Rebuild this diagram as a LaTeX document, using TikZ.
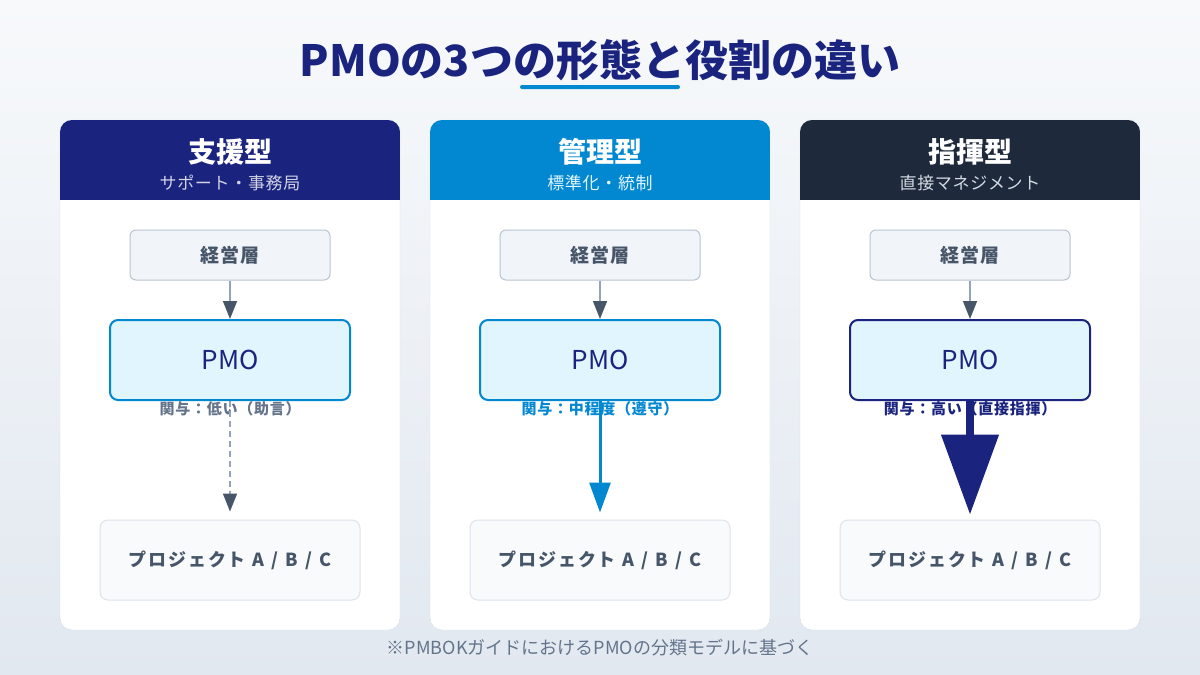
\documentclass[tikz,border=0pt]{standalone}
\usepackage{fontspec}
\setmainfont{Noto Sans CJK JP}
\usetikzlibrary{arrows.meta}

\definecolor{navy}{HTML}{1A237E}
\definecolor{azure}{HTML}{0288D1}
\definecolor{ink}{HTML}{1E293B}
\definecolor{slate}{HTML}{475569}
\definecolor{slategray}{HTML}{64748B}
\definecolor{linegray}{HTML}{94A3B8}
\definecolor{pmofill}{HTML}{E1F5FE}
\definecolor{execfill}{HTML}{F1F5F9}
\definecolor{execline}{HTML}{B9C4D0}
\definecolor{projfill}{HTML}{F8FAFC}
\definecolor{projline}{HTML}{DCE3EC}
\definecolor{panelline}{HTML}{D5DDE8}
\definecolor{bgtop}{HTML}{F7F9FB}
\definecolor{bgbottom}{HTML}{E2E8F0}

\newcommand{\fsize}[1]{\fontsize{#1}{#1}\selectfont}
\newcommand{\spaced}[1]{\addfontfeature{LetterSpace=#1}}
\newcommand{\widespace}{\spaceskip=7pt\relax}

\begin{document}
\begin{tikzpicture}[x=1pt, y=-1pt,
  panel/.style = {draw=panelline, fill=white, rounded corners=12pt},
  head/.style = {text=white, font=\fsize{28}\bfseries},
  sub/.style = {font=\fsize{17}\spaced{4}},
  exec/.style = {draw=execline, fill=execfill, rounded corners=6pt, line width=1pt,
    minimum width=200pt, minimum height=50pt, text=slate, font=\fsize{19}\bfseries\spaced{6}},
  pmo/.style = {fill=pmofill, line width=2pt, rounded corners=8pt,
    minimum width=240pt, minimum height=80pt, text=navy, font=\fsize{26}},
  proj/.style = {draw=projline, fill=projfill, rounded corners=8pt, line width=1pt,
    minimum width=260pt, minimum height=80pt, text=slate,
    font=\fsize{18}\bfseries\spaced{10}\widespace},
  rel/.style = {font=\fsize{15}\bfseries\spaced{5}},
  link/.style = {draw=linegray, line width=1.5pt, -{Triangle[length=18pt, width=14pt, color=slate]}}
]
\useasboundingbox (0,0) rectangle (1200,675);
\shade[top color=bgtop, bottom color=bgbottom] (0,0) rectangle (1200,675);

% title
\node[text=navy, font=\fsize{43}\bfseries] (title) at (600,60) {PMOの3つの形態と役割の違い};
\node[fill=azure, minimum width=160pt, minimum height=4pt, inner sep=0pt, rounded corners=2pt] (uline) at (600,87) {};

% support type
\begin{scope}
\draw[panel] (60,120) rectangle (400,630);
\begin{scope}
\clip[rounded corners=12pt] (60,120) rectangle (400,630);
\fill[navy] (60,120) rectangle (400,200);
\end{scope}
\node[head] (head1) at (230,152) {支援型};
\node[sub, text=navy!20] (sub1) at (230,183) {サポート・事務局};

\node[exec] (exec1) at (230,255) {経営層};
\node[pmo, draw=azure] (pmo1) at (230,360) {PMO};
\node[proj] (proj1) at (230,560) {プロジェクト A / B / C};
\node[rel, text=slategray] (rel1) at (230,409) {関与：低い（助言）};

\draw[link] (exec1.south) -- (pmo1.north);
\draw[link, dash pattern=on 6pt off 4pt, shorten >=8pt] (pmo1.south) -- (proj1.north);
\end{scope}

% management type
\begin{scope}[xshift=370pt]
\draw[panel] (60,120) rectangle (400,630);
\begin{scope}
\clip[rounded corners=12pt] (60,120) rectangle (400,630);
\fill[azure] (60,120) rectangle (400,200);
\end{scope}
\node[head] (head2) at (230,152) {管理型};
\node[sub, text=pmofill] (sub2) at (230,183) {標準化・統制};

\node[exec] (exec2) at (230,255) {経営層};
\node[pmo, draw=azure] (pmo2) at (230,360) {PMO};
\node[proj] (proj2) at (230,560) {プロジェクト A / B / C};
\node[rel, text=azure] (rel2) at (230,409) {関与：中程度（遵守）};

\draw[link] (exec2.south) -- (pmo2.north);
\draw[draw=azure, line width=3pt, shorten >=7pt,
  -{Triangle[length=30pt, width=21pt]}] (pmo2.south) -- (proj2.north);
\end{scope}

% directive type
\begin{scope}[xshift=740pt]
\draw[panel] (60,120) rectangle (400,630);
\begin{scope}
\clip[rounded corners=12pt] (60,120) rectangle (400,630);
\fill[ink] (60,120) rectangle (400,200);
\end{scope}
\node[head] (head3) at (230,152) {指揮型};
\node[sub, text=linegray!40] (sub3) at (230,183) {直接マネジメント};

\node[exec] (exec3) at (230,255) {経営層};
\node[pmo, draw=navy] (pmo3) at (230,360) {PMO};
\node[proj] (proj3) at (230,560) {プロジェクト A / B / C};
\node[rel, text=navy] (rel3) at (230,409) {関与：高い（直接指揮）};

\draw[link] (exec3.south) -- (pmo3.north);
\draw[draw=navy, line width=8pt, shorten >=5pt,
  -{Triangle[length=80pt, width=56pt]}] (pmo3.south) -- (proj3.north);
\end{scope}

\node[text=slategray, font=\fsize{18}] (note) at (600,648) {※PMBOKガイドにおけるPMOの分類モデルに基づく};
\end{tikzpicture}
\end{document}
